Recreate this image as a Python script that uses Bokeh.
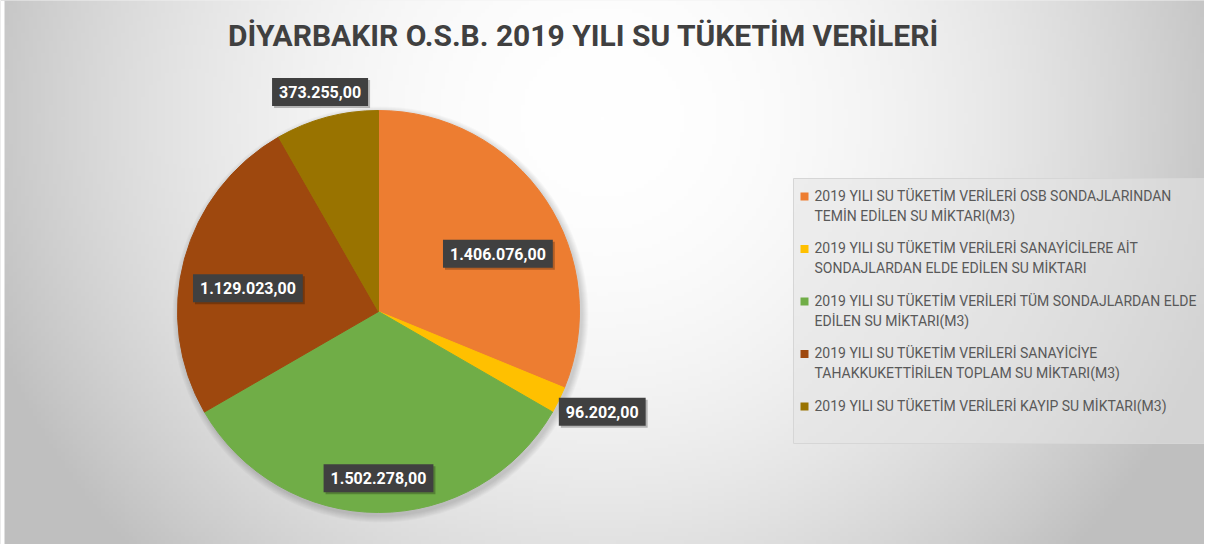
import numpy as np
from bokeh.plotting import figure
from bokeh.models import ColumnDataSource
from bokeh.core.properties import value
from bokeh.embed import file_html
from bokeh.resources import INLINE

# ---------------- data ----------------
title_text = "DİYARBAKIR O.S.B. 2019 YILI SU TÜKETİM VERİLERİ"
categories = [
    "2019 YILI SU TÜKETİM VERİLERİ OSB SONDAJLARINDAN\nTEMİN EDİLEN SU MİKTARI(M3)",
    "2019 YILI SU TÜKETİM VERİLERİ SANAYİCİLERE AİT\nSONDAJLARDAN ELDE EDİLEN SU MİKTARI",
    "2019 YILI SU TÜKETİM VERİLERİ TÜM SONDAJLARDAN ELDE\nEDİLEN SU MİKTARI(M3)",
    "2019 YILI SU TÜKETİM VERİLERİ SANAYİCİYE\nTAHAKKUKETTİRİLEN TOPLAM SU MİKTARI(M3)",
    "2019 YILI SU TÜKETİM VERİLERİ KAYIP SU MİKTARI(M3)",
]
values = [1406076.00, 96202.00, 1502278.00, 1129023.00, 373255.00]
colors = ["#ED7D31", "#FFC000", "#70AD47", "#9E480E", "#997300"]
label_radius = [0.66, 1.22, 0.83, 0.66, 1.13]   # label distance (fraction of pie radius)
label_shift_deg = [8, -2, 0, -5, 0]             # clockwise shift of label from slice middle

# ---------------- layout ----------------
W, H = 1204, 544
CX, CY, R = 378, 233, 201

p = figure(width=W, height=H, x_range=(0, W), y_range=(0, H),
           output_backend="svg", toolbar_location=None, min_border=0)
p.axis.visible = False
p.grid.visible = False
p.outline_line_color = None
p.background_fill_color = "#e6e6e6"
p.border_fill_color = "#e6e6e6"

# background radial gradient (decorative)
S = 4
ny, nx = H // S + 1, W // S + 1
yy, xx = np.mgrid[0:ny, 0:nx]
px = xx * S
py = H - yy * S
d = np.sqrt(((px - 600) / 620.0) ** 2 + ((py - 120) / 600.0) ** 2)
v = (255 - 58 * np.clip(d, 0, 1.05) ** 2).astype(np.uint8)
img = np.empty((ny, nx), dtype=np.uint32)
view = img.view(dtype=np.uint8).reshape((ny, nx, 4))
view[..., 0] = v
view[..., 1] = v
view[..., 2] = v
view[..., 3] = 255
p.image_rgba(image=[img], x=0, y=0, dw=nx * S, dh=ny * S)
p.quad(left=[0], right=[4], bottom=[0], top=[H], fill_color="white", line_color=None)

# title
p.text(x=[583], y=[H - 35], text=[title_text], text_font=value("Roboto"),
       text_font_style="bold", text_font_size="30px", text_color="#404040",
       text_align="center", text_baseline="middle")

# pie shadow
for k in range(1, 8):
    p.circle(x=[CX + 2], y=[CY - 3], radius=R + k, fill_color="black",
             fill_alpha=0.025, line_color=None)

# pie wedges
vals = np.array(values)
frac = vals / vals.sum()
cum = np.concatenate([[0], np.cumsum(frac)])
start = np.pi / 2 - cum[:-1] * 2 * np.pi
end = np.pi / 2 - cum[1:] * 2 * np.pi
mid = (start + end) / 2 - np.radians(label_shift_deg)
src = ColumnDataSource(dict(start=start, end=end, color=colors))
p.wedge(x=CX, y=CY, radius=R, start_angle="start", end_angle="end",
        direction="clock", fill_color="color", line_color="color", source=src)

# data labels
def tr_fmt(x):
    s = f"{x:,.2f}"
    return s.replace(",", "X").replace(".", ",").replace("X", ".")

lr = np.array(label_radius) * R
lsrc = ColumnDataSource(dict(
    x=CX + lr * np.cos(mid), y=CY + lr * np.sin(mid),
    text=[tr_fmt(x) for x in values]))
p.text(x="x", y="y", text="text", source=lsrc, x_offset=2, y_offset=2,
       text_alpha=0, text_font=value("Roboto"), text_font_style="bold",
       text_font_size="16px", text_align="center", text_baseline="middle",
       background_fill_color="black", background_fill_alpha=0.25, padding=(7, 8))
p.text(x="x", y="y", text="text", source=lsrc, text_color="white",
       text_font=value("Roboto"), text_font_style="bold", text_font_size="16px",
       text_align="center", text_baseline="middle",
       background_fill_color="#404040", padding=(7, 8))

# legend box
p.quad(left=[793], right=[W], bottom=[H - 443], top=[H - 178], fill_color="#e4e4e4",
       fill_alpha=0.55, line_color="#d6d6d6")

# legend items
n = len(categories)
ly = (H - 196) - 52.5 * np.arange(n)
p.scatter(x=[804] * n, y=ly, marker="square", size=8, fill_color=colors,
          line_color=None)
p.text(x=[814] * n, y=ly + 9, text=categories, text_font=value("Roboto"),
       text_font_size="14px", text_color="#595959", text_align="left",
       text_baseline="top", text_line_height=1.25)

open("out.html", "w").write(file_html(p, INLINE))
